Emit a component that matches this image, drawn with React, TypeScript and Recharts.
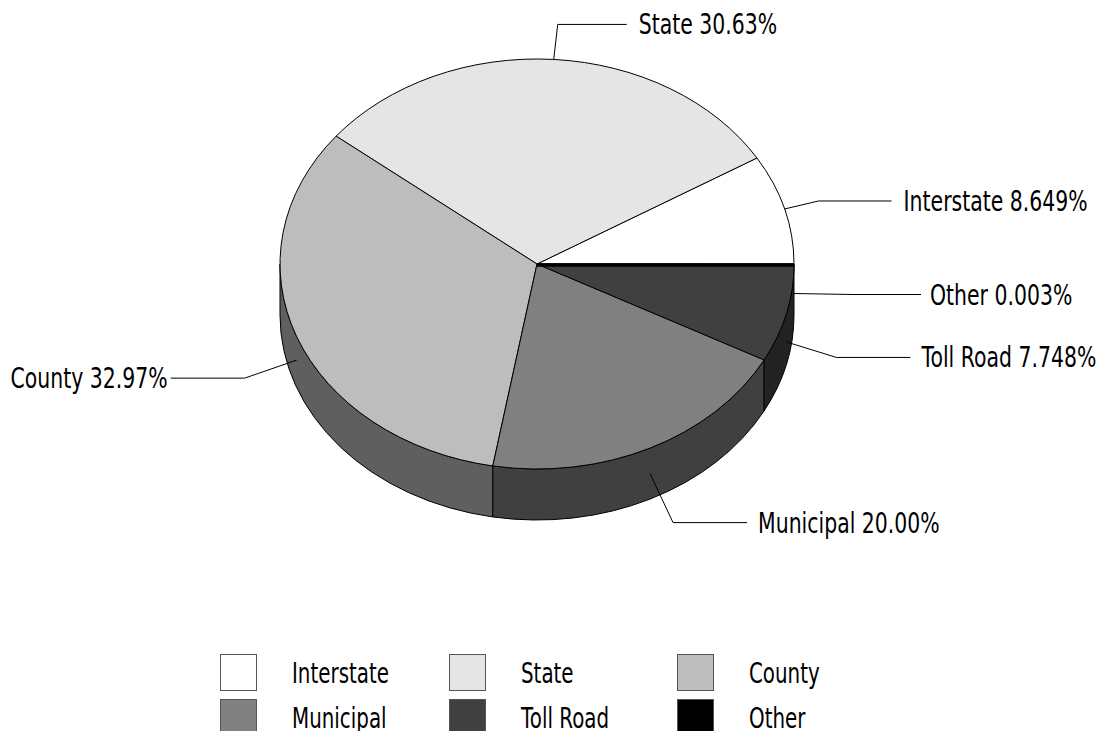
import React from "react";
import { PieChart, Pie, Legend } from "recharts";

const categories = ["Interstate", "State", "County", "Municipal", "Toll Road", "Other"];
const shares = [8.649, 30.63, 32.97, 20.0, 7.748, 0.003];
const shareLabels = ["8.649%", "30.63%", "32.97%", "20.00%", "7.748%", "0.003%"];
const topColors = ["#ffffff", "#e5e5e5", "#bdbdbd", "#808080", "#404040", "#000000"];
const sideColors = ["#ffffff", "#e5e5e5", "#5f5f5f", "#404040", "#222222", "#000000"];

// label layout: anchor nudge, leader elbow offset from the anchor, horizontal run, text gap
const leaderLayout = [
  { ay: 0, ex: 34, ey: -8, run: 73, gap: 12 },
  { ay: 0, ex: 4, ey: -35, run: 69, gap: 12 },
  { ay: -2, ex: -52, ey: 18, run: -74, gap: 3 },
  { ay: 0, ex: 23, ey: 49, run: 74, gap: 11 },
  { ay: 3, ex: 50, ey: 15.5, run: 74, gap: 11 },
  { ay: 4, ex: 60, ey: 1, run: 67, gap: 9 },
];

const W = 1108;
const H = 731;
const CX = 537;
const CY = 264;
const RX = 257;
const SQUASH = 205 / 257;
const DEPTH = 51;
const FONT = "'DejaVu Sans', sans-serif";
const FONT_SIZE = 29;
const LABEL_SCALE = 0.705;
const LEGEND_SCALE = 0.685;

const tableData = categories.map((name, i) => ({
  name,
  value: shares[i],
  fill: topColors[i],
  side: sideColors[i],
  text: shareLabels[i],
  index: i,
}));

const px = (cx: number, r: number, deg: number) => cx + r * Math.cos((deg * Math.PI) / 180);
const py = (cy: number, r: number, deg: number) => cy - r * SQUASH * Math.sin((deg * Math.PI) / 180);

function Sector3D(props: any) {
  const { cx, cy, outerRadius: r, startAngle, endAngle, fill, side } = props;
  const a0 = Math.min(startAngle, endAngle);
  const a1 = Math.max(startAngle, endAngle);
  const ry = r * SQUASH;
  const large = a1 - a0 > 180 ? 1 : 0;
  const x0 = px(cx, r, a0), y0 = py(cy, r, a0), x1 = px(cx, r, a1), y1 = py(cy, r, a1);
  const top = `M${cx},${cy}L${x0},${y0}A${r},${ry} 0 ${large} 0 ${x1},${y1}Z`;
  // visible wall: lower half of the rim only
  const s0 = Math.max(a0, 180);
  const s1 = Math.min(a1, 360);
  let wall = null;
  if (s1 > s0 && s1 - s0 > 0.5) {
    const wx0 = px(cx, r, s0), wy0 = py(cy, r, s0), wx1 = px(cx, r, s1), wy1 = py(cy, r, s1);
    wall = (
      <path
        d={`M${wx0},${wy0}A${r},${ry} 0 0 0 ${wx1},${wy1}L${wx1},${wy1 + DEPTH}A${r},${ry} 0 0 1 ${wx0},${wy0 + DEPTH}Z`}
        fill={side}
        stroke="#000"
        strokeWidth={1}
      />
    );
  }
  const thin = a1 - a0 < 1;
  return (
    <g>
      {wall}
      {thin ? (
        <line x1={cx} y1={cy + 1} x2={x0} y2={y0 + 1} stroke={fill} strokeWidth={3.5} />
      ) : (
        <path d={top} fill={fill} stroke="#000" strokeWidth={1} strokeLinejoin="round" />
      )}
    </g>
  );
}

function LeaderLabel(props: any) {
  const { cx, cy, outerRadius: r, midAngle, index } = props;
  const item = tableData[index];
  const lay = leaderLayout[index];
  const inLower = midAngle > 180;
  const ax = px(cx, r, midAngle);
  const ay = py(cy, r, midAngle) + (inLower ? DEPTH * 0.5 : 0) + lay.ay;
  const ex = ax + lay.ex;
  const ey = ay + lay.ey;
  const fx = ex + lay.run;
  const toRight = lay.run > 0;
  const tx = fx + (toRight ? lay.gap : -lay.gap);
  return (
    <g>
      <polyline points={`${ax},${ay} ${ex},${ey} ${fx},${ey}`} fill="none" stroke="#000" strokeWidth={1} />
      <text
        transform={`translate(${tx},${ey + 10}) scale(${LABEL_SCALE},1)`}
        textAnchor={toRight ? "start" : "end"}
        fontFamily={FONT}
        fontSize={FONT_SIZE}
        fill="#000"
      >
        {`${item.name} ${item.text}`}
      </text>
    </g>
  );
}

function LegendGrid({ payload }: any) {
  return (
    <div style={{ position: "relative", width: W, height: H, fontFamily: FONT, fontSize: FONT_SIZE, color: "#000" }}>
      {(payload || []).map((p: any, i: number) => {
        const col = i % 3;
        const row = Math.floor(i / 3);
        const sx = 220 + col * 228.5;
        const sy = 654 + row * 45;
        return (
          <React.Fragment key={p.value}>
            <div
              style={{
                position: "absolute",
                left: sx,
                top: sy,
                width: 35,
                height: 35,
                background: p.color,
                border: "1px solid #555",
              }}
            />
            <div
              style={{
                position: "absolute",
                left: sx + 72,
                top: sy + 6,
                lineHeight: "26px",
                whiteSpace: "nowrap",
                transform: `scaleX(${LEGEND_SCALE})`,
                transformOrigin: "left center",
              }}
            >
              {p.value}
            </div>
          </React.Fragment>
        );
      })}
    </div>
  );
}

export default function App() {
  return (
    <div style={{ position: "absolute", left: 0, top: 0, width: W, height: H, overflow: "hidden", background: "#fff" }}>
      <PieChart width={W} height={H} margin={{ top: 0, right: 0, bottom: 0, left: 0 }}>
        <Pie
          data={tableData}
          dataKey="value"
          nameKey="name"
          cx={CX}
          cy={CY}
          innerRadius={0}
          outerRadius={RX}
          startAngle={0}
          endAngle={360}
          paddingAngle={0}
          stroke="#000"
          isAnimationActive={false}
          shape={Sector3D}
          label={LeaderLabel}
          labelLine={false}
        />
        <Legend
          content={<LegendGrid />}
          itemSorter={null}
          wrapperStyle={{ position: "absolute", left: 0, top: 0, width: W, height: H, pointerEvents: "none" }}
        />
      </PieChart>
    </div>
  );
}
